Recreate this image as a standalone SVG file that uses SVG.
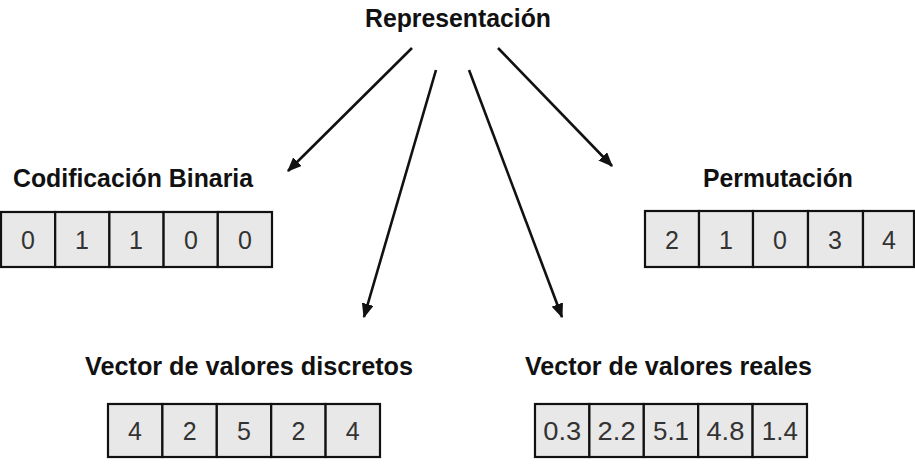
<svg xmlns="http://www.w3.org/2000/svg" width="915" height="474" viewBox="0 0 915 474">
<style>
.lbl{font-family:"Liberation Sans",Arial,sans-serif;font-weight:bold;font-size:25px;fill:#111}
.cell{fill:#e8e8e8;stroke:#111;stroke-width:2.2}
.num{font-family:"Liberation Sans",Arial,sans-serif;font-size:25px;fill:#333;text-anchor:middle}
.arr{stroke:#111;stroke-width:2.6;fill:none;marker-end:url(#ah)}
</style>
<defs>
<marker id="ah" viewBox="0 0 12 10" refX="11" refY="5" markerWidth="5.6" markerHeight="4.7" markerUnits="strokeWidth" orient="auto">
<path d="M0,0 L12,5 L0,10 Z" fill="#111"/>
</marker>
</defs>
<g id="connectors">
<line class="arr" x1="412" y1="48" x2="288" y2="171"/>
<line class="arr" x1="436" y1="70" x2="364" y2="317"/>
<line class="arr" x1="469" y1="70" x2="562" y2="317"/>
<line class="arr" x1="498" y1="48" x2="612" y2="166"/>
</g>
<g id="representacion">
<text class="lbl" x="365" y="27" textLength="186" lengthAdjust="spacingAndGlyphs">Representación</text>
</g>
<g id="binaria">
<text class="lbl" x="13" y="187" textLength="240" lengthAdjust="spacingAndGlyphs">Codificación Binaria</text>
<rect class="cell" x="1" y="212" width="54.2" height="55"/>
<rect class="cell" x="55.2" y="212" width="54.2" height="55"/>
<rect class="cell" x="109.4" y="212" width="54.2" height="55"/>
<rect class="cell" x="163.6" y="212" width="54.2" height="55"/>
<rect class="cell" x="217.8" y="212" width="54.2" height="55"/>
<text class="num" x="28" y="248.5">0</text>
<text class="num" x="82" y="248.5">1</text>
<text class="num" x="136" y="248.5">1</text>
<text class="num" x="191" y="248.5">0</text>
<text class="num" x="245" y="248.5">0</text>
</g>
<g id="permutacion">
<text class="lbl" x="703" y="187" textLength="150" lengthAdjust="spacingAndGlyphs">Permutación</text>
<rect class="cell" x="645" y="211" width="54" height="56"/>
<rect class="cell" x="699" y="211" width="54" height="56"/>
<rect class="cell" x="753" y="211" width="55" height="56"/>
<rect class="cell" x="808" y="211" width="55" height="56"/>
<rect class="cell" x="863" y="211" width="51" height="56"/>
<text class="num" x="672" y="248.5">2</text>
<text class="num" x="726" y="248.5">1</text>
<text class="num" x="780" y="248.5">0</text>
<text class="num" x="835" y="248.5">3</text>
<text class="num" x="889" y="248.5">4</text>
</g>
<g id="discretos">
<text class="lbl" x="85" y="375" textLength="328" lengthAdjust="spacingAndGlyphs">Vector de valores discretos</text>
<rect class="cell" x="108" y="404" width="54.4" height="53"/>
<rect class="cell" x="162.4" y="404" width="54.4" height="53"/>
<rect class="cell" x="216.8" y="404" width="54.4" height="53"/>
<rect class="cell" x="271.2" y="404" width="54.4" height="53"/>
<rect class="cell" x="325.6" y="404" width="54.4" height="53"/>
<text class="num" x="135" y="439.5">4</text>
<text class="num" x="189.6" y="439.5">2</text>
<text class="num" x="244" y="439.5">5</text>
<text class="num" x="298.4" y="439.5">2</text>
<text class="num" x="352.8" y="439.5">4</text>
</g>
<g id="reales">
<text class="lbl" x="525" y="375" textLength="287" lengthAdjust="spacingAndGlyphs">Vector de valores reales</text>
<rect class="cell" x="535" y="404" width="54.4" height="53"/>
<rect class="cell" x="589.4" y="404" width="54.4" height="53"/>
<rect class="cell" x="643.8" y="404" width="54.4" height="53"/>
<rect class="cell" x="698.2" y="404" width="54.4" height="53"/>
<rect class="cell" x="752.6" y="404" width="54.4" height="53"/>
<text class="num" x="562.2" y="439.5" textLength="38" lengthAdjust="spacingAndGlyphs">0.3</text>
<text class="num" x="616.6" y="439.5" textLength="38" lengthAdjust="spacingAndGlyphs">2.2</text>
<text class="num" x="671" y="439.5" textLength="36" lengthAdjust="spacingAndGlyphs">5.1</text>
<text class="num" x="725.4" y="439.5" textLength="38" lengthAdjust="spacingAndGlyphs">4.8</text>
<text class="num" x="779.8" y="439.5" textLength="36" lengthAdjust="spacingAndGlyphs">1.4</text>
</g>
</svg>
